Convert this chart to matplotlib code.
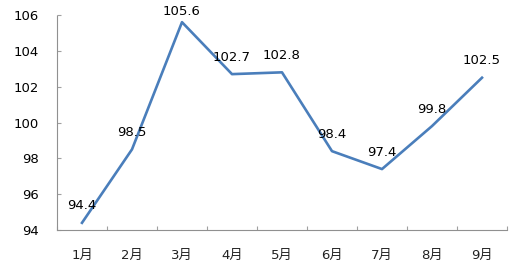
import matplotlib
matplotlib.use("Agg")
import matplotlib.pyplot as plt

plt.rcParams['font.family'] = ['DejaVu Sans', 'Noto Sans CJK SC']

months = ["1月", "2月", "3月", "4月", "5月", "6月", "7月", "8月", "9月"]
values = [94.4, 98.5, 105.6, 102.7, 102.8, 98.4, 97.4, 99.8, 102.5]
y_ticks = [94, 96, 98, 100, 102, 104, 106]

fig = plt.figure(figsize=(5.2, 2.78), dpi=100)
ax = fig.add_axes([0.1096, 0.1727, 0.8654, 0.7733])

x = list(range(len(months)))
ax.plot(x, values, color="#4a7ebb", linewidth=1.9)

# labels sit ~17px above each point, but stay inside the chart area
for xi, v in zip(x, values):
    label_y = min(v + 0.95, 106.17)
    ax.text(xi, label_y, f"{v:.1f}", ha="center", va="center",
            fontsize=9.5, color="#000000")

ax.set_xlim(-0.5, len(months) - 0.5)
ax.set_ylim(94, 106)
ax.set_yticks(y_ticks)
ax.set_yticklabels([str(t) for t in y_ticks], fontsize=9.5)
ax.set_xticks([i + 0.5 for i in range(-1, len(months))], minor=False)
ax.set_xticklabels([])
ax.set_xticks(x, minor=True)
ax.set_xticklabels(months, minor=True, fontsize=9.5, color="#222222")
ax.tick_params(axis="x", which="minor", length=0, pad=14)
ax.tick_params(axis="x", which="major", direction="in", length=3, color="#a0a0a0")
ax.tick_params(axis="y", direction="in", length=3, color="#a0a0a0", pad=13)

for side in ["top", "right"]:
    ax.spines[side].set_visible(False)
for side in ["left", "bottom"]:
    ax.spines[side].set_color("#909090")
    ax.spines[side].set_linestyle((0, (1, 1)))
    ax.spines[side].set_linewidth(0.8)

fig.savefig("out.png", dpi=100)
